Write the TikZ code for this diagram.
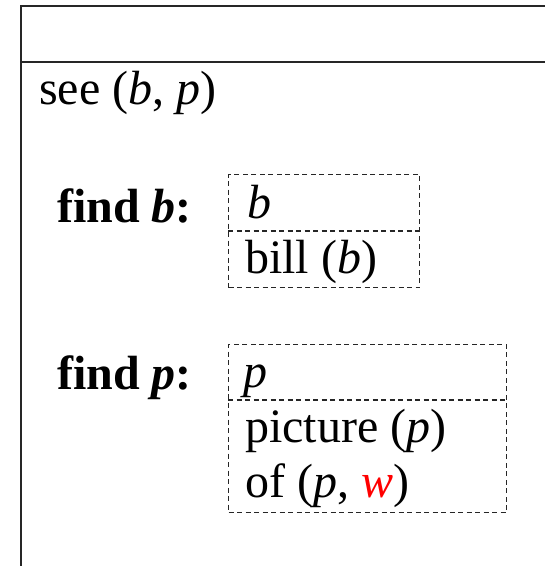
\documentclass[tikz,border=0pt]{standalone}
\usepackage{fontspec}
\setmainfont{Liberation Serif}[ItalicFont={Liberation Serif Italic},BoldFont={Liberation Serif Bold},BoldItalicFont={Liberation Serif Bold Italic}]
\usepackage{xcolor}
\begin{document}
\begin{tikzpicture}[x=1pt,y=-1pt,
  frame/.style={draw=black!85,line width=1.4pt},
  dashes/.style={draw=black!85,line width=1.3pt,dash pattern=on 5pt off 3.5pt},
  dbox/.style={dashes,inner sep=0pt,anchor=north west},
  txt/.style={anchor=base west,inner sep=0pt,font=\fontsize{48}{56}\selectfont},
  bold/.style={txt,font=\fontsize{48}{56}\selectfont\bfseries}]
\useasboundingbox (0,0) rectangle (545,566);
% outer frame (open at right and bottom)
\coordinate (tl) at (21,6);
\coordinate (tr) at (548,6);
\coordinate (ml) at (21,62);
\coordinate (mr) at (548,62);
\coordinate (bl) at (21,570);
\draw[frame] (tr) -- (tl) -- (bl);
\draw[frame] (ml) -- (mr);
% main condition
\node[txt] (see) at (39,104) {see (\textit{b}, \textit{p})};
% find b
\node[bold] (findb) at (57,222) {find \textit{b}:};
\node[dbox,minimum width=191pt,minimum height=113pt] (bbox) at (228,174) {};
\draw[dashes] (bbox.west |- 0,231) coordinate (bdl) -- (bbox.east |- 0,231) coordinate (bdr);
\node[txt] (bvar) at (247,218) {\textit{b}};
\node[txt] (bill) at (245,273) {bill (\textit{b})};
% find p
\node[bold] (findp) at (57,389) {find \textit{p}:};
\node[dbox,minimum width=278pt,minimum height=168pt] (pbox) at (228,344) {};
\draw[dashes] (pbox.west |- 0,400) coordinate (pdl) -- (pbox.east |- 0,400) coordinate (pdr);
\node[txt] (pvar) at (243,387) {\textit{p}};
\node[txt] (pict) at (245,442) {picture (\textit{p})};
\node[txt] (of) at (245,497) {of (\textit{p}, \textcolor{red}{\textit{w}})};
\end{tikzpicture}
\end{document}
